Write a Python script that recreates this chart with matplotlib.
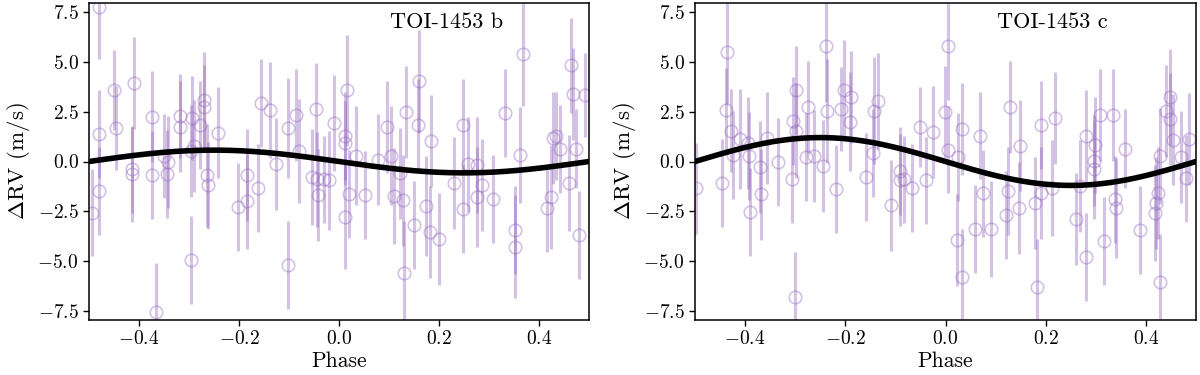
import numpy as np
import matplotlib
matplotlib.use("Agg")
import matplotlib.pyplot as plt

plt.rcParams['font.family'] = 'serif'
plt.rcParams['font.serif'] = ['cmr10']
plt.rcParams['mathtext.fontset'] = 'cm'
plt.rcParams['axes.formatter.use_mathtext'] = True
plt.rcParams['axes.unicode_minus'] = True

# ---------------- TOI-1453 b ----------------
phase_b = [-0.481, -0.495, -0.481, -0.481, -0.450, -0.446, -0.410, -0.415, -0.415, -0.375,
           -0.375, -0.367, -0.351, -0.342, -0.345, -0.318, -0.318, -0.297, -0.295, -0.291,
           -0.297, -0.278, -0.271, -0.271, -0.265, -0.262, -0.243, -0.203, -0.185, -0.185,
           -0.163, -0.156, -0.139, -0.127, -0.103, -0.103, -0.087, -0.081, -0.055, -0.047,
           -0.045, -0.043, -0.031, -0.021, -0.011, 0.015, 0.011, 0.011, 0.011, 0.019,
           0.033, 0.051, 0.077, 0.095, 0.103, 0.109, 0.122, 0.127, 0.129, 0.133,
           0.149, 0.157, 0.159, 0.173, 0.181, 0.184, 0.200, 0.229, 0.247, 0.247,
           0.257, 0.276, 0.276, 0.285, 0.307, 0.332, 0.351, 0.351, 0.361, 0.367,
           0.415, 0.424, 0.427, 0.434, 0.441, 0.459, 0.463, 0.467, 0.474, 0.479, 0.492]
rv_b = [7.73, -2.56, 1.39, -1.47, 3.60, 1.69, 3.95, -0.40, -0.65, 2.25,
        -0.69, -7.57, 0.27, -0.03, -0.63, 2.30, 1.75, -4.93, 2.18, 0.77,
        0.52, 1.83, 3.10, 2.72, -0.70, -1.20, 1.45, -2.27, -0.68, -2.00,
        -1.32, 2.93, 2.60, -0.12, 1.67, -5.18, 2.35, 0.52, -0.78, 2.63,
        -0.90, -1.68, -0.90, -0.95, 1.93, 3.57, 1.27, 0.93, -2.77, -1.63,
        0.30, -1.67, 0.10, 1.73, 0.30, -1.73, -0.60, -1.95, -5.60, 2.48,
        -3.18, 1.85, 4.02, -2.23, -3.53, 1.03, -3.90, -1.07, 1.85, -2.40,
        -0.15, -0.18, -1.77, -1.18, -1.87, 2.43, -3.45, -4.27, 0.32, 5.40,
        -2.32, -1.77, 1.18, 1.27, 0.63, -1.07, 4.82, 3.38, 0.65, -3.68, 3.35]
err_b = [2.6, 2.2, 2.2, 2.2, 2.0, 2.1, 2.3, 2.2, 2.4, 2.3,
         2.2, 2.5, 2.1, 2.3, 2.2, 2.1, 2.3, 2.2, 2.1, 2.3,
         2.3, 2.2, 2.4, 2.1, 2.6, 2.2, 2.3, 2.2, 2.3, 2.4,
         2.2, 2.2, 2.4, 2.3, 2.5, 2.2, 2.3, 2.6, 2.4, 2.3,
         2.4, 2.3, 2.2, 2.5, 2.4, 2.8, 2.2, 2.1, 2.6, 2.2,
         2.5, 2.2, 2.3, 2.3, 2.5, 2.4, 2.3, 2.3, 2.6, 2.3,
         2.2, 2.3, 2.6, 2.5, 2.3, 2.3, 2.3, 2.3, 2.3, 2.2,
         2.4, 2.4, 2.5, 2.3, 2.2, 2.2, 2.2, 2.6, 2.4, 2.6,
         2.2, 2.6, 2.3, 2.2, 2.2, 2.4, 2.4, 2.3, 2.0, 2.2, 2.1]
K_b = 0.57

# ---------------- TOI-1453 c ----------------
phase_c = [-0.498, -0.446, -0.436, -0.438, -0.428, -0.424, -0.410, -0.392, -0.394, -0.390,
           -0.370, -0.368, -0.356, -0.335, -0.307, -0.305, -0.298, -0.298, -0.301, -0.278,
           -0.275, -0.262, -0.244, -0.238, -0.237, -0.218, -0.209, -0.203, -0.189, -0.191,
           -0.159, -0.144, -0.143, -0.135, -0.108, -0.091, -0.091, -0.083, -0.066, -0.051,
           -0.038, -0.025, 0.005, -0.001, 0.005, 0.024, 0.023, 0.032, 0.032, 0.058,
           0.068, 0.075, 0.090, 0.120, 0.124, 0.128, 0.147, 0.148, 0.178, 0.183,
           0.190, 0.191, 0.212, 0.218, 0.268, 0.261, 0.281, 0.281, 0.299, 0.297,
           0.297, 0.309, 0.317, 0.334, 0.339, 0.341, 0.358, 0.388, 0.419, 0.420,
           0.424, 0.429, 0.428, 0.440, 0.448, 0.449, 0.455, 0.470, 0.480, 0.487]
rv_c = [-1.35, -1.07, 5.47, 2.60, 1.55, 0.33, 1.13, 0.27, 0.93, -2.52,
        -0.27, -1.65, 1.18, -0.02, -0.90, 2.02, 3.60, 1.55, -6.82, 0.23,
        2.73, 0.27, -0.23, 5.77, 2.52, -1.37, 2.65, 3.57, 3.23, 2.00,
        -0.78, 0.43, 2.55, 3.03, -2.20, -0.48, -0.93, -0.90, -1.32, 1.72,
        -0.95, 1.48, 5.80, 2.47, 0.60, 0.22, -3.95, 1.63, -5.78, -3.40,
        1.30, -1.60, -3.37, -2.70, -1.48, 2.73, -2.32, 0.80, -2.07, -6.27,
        -1.57, 1.83, -1.33, 2.18, -1.23, -2.90, 1.27, -4.78, 0.82, 0.05,
        -0.40, 2.35, -3.98, 2.35, -1.90, -2.32, 0.65, -3.45, -2.57, -2.07,
        -1.57, 0.27, -6.02, 2.53, 3.25, 2.13, 1.10, 0.23, -0.85, 1.13]
err_c = [2.3, 2.2, 2.6, 2.1, 2.1, 2.2, 2.5, 2.2, 2.3, 2.2,
         2.3, 2.3, 2.3, 2.2, 2.2, 2.2, 2.2, 2.4, 2.3, 2.2,
         2.3, 2.3, 2.3, 2.8, 2.6, 2.2, 2.1, 2.5, 2.3, 2.5,
         2.2, 2.2, 2.7, 2.4, 2.3, 2.2, 2.3, 2.2, 2.2, 2.0,
         2.2, 2.3, 2.7, 2.3, 2.2, 2.2, 2.3, 2.3, 2.4, 2.2,
         2.2, 2.2, 2.4, 2.2, 2.2, 2.3, 2.3, 2.3, 2.3, 2.4,
         2.3, 2.2, 2.4, 2.3, 2.3, 2.3, 2.3, 2.2, 2.4, 2.3,
         2.5, 2.3, 2.2, 2.3, 2.2, 2.5, 2.0, 2.2, 2.4, 2.3,
         2.3, 2.4, 2.4, 2.3, 2.4, 2.3, 2.3, 2.3, 2.2, 2.3]
K_c = 1.2

panels = [(phase_b, rv_b, err_b, K_b, 'TOI-1453 b'),
          (phase_c, rv_c, err_c, K_c, 'TOI-1453 c')]

fig = plt.figure(figsize=(12, 3.75), dpi=100)
ax_rects = [[89/1200, 55/375, 500/1200, 317/375],
            [695/1200, 55/375, 501/1200, 317/375]]

color = '#9467bd'
for rect, (ph, rv, er, K, name) in zip(ax_rects, panels):
    ax = fig.add_axes(rect)
    ax.errorbar(ph, rv, yerr=er, fmt='o', mfc='none', mec=color, ecolor=color,
                alpha=0.4, ms=9, mew=1.2, elinewidth=2.2, capsize=0)
    xx = np.linspace(-0.5, 0.5, 400)
    ax.plot(xx, -K * np.sin(2 * np.pi * xx), color='black', lw=4, zorder=5)
    ax.set_xlim(-0.5, 0.5)
    ax.set_ylim(-7.95, 7.95)
    ax.set_xticks([-0.4, -0.2, 0.0, 0.2, 0.4])
    ax.set_yticks([-7.5, -5.0, -2.5, 0.0, 2.5, 5.0, 7.5])
    ax.tick_params(labelsize=14, direction='out', length=4, width=1)
    ax.set_xlabel('Phase', fontsize=15.5, labelpad=2)
    ax.set_ylabel(r'$\Delta$RV (m/s)', fontsize=16.5, labelpad=4)
    ax.text(0.714, 0.94, name, transform=ax.transAxes, ha='center', va='center',
            fontsize=16)
    for s in ax.spines.values():
        s.set_linewidth(1.1)

fig.savefig('out.png', dpi=100)
